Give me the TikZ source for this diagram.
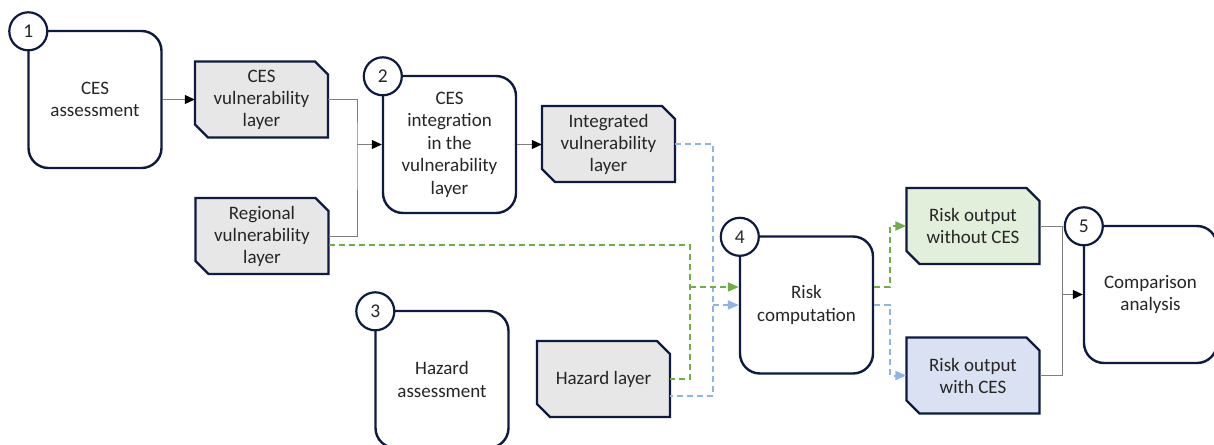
\documentclass[tikz,border=0pt]{standalone}
\usepackage{fontspec}
\setmainfont{Carlito}
\usetikzlibrary{arrows.meta,calc}
\definecolor{navy}{HTML}{0E1A40}
\definecolor{boxgray}{HTML}{E7E7E7}
\definecolor{lgreen}{HTML}{E2EFDA}
\definecolor{lblue}{HTML}{D9E1F2}
\definecolor{dgreen}{HTML}{70AD47}
\definecolor{dblue}{HTML}{8EB4E3}
\definecolor{connc}{HTML}{7F7F7F}
\definecolor{txt}{HTML}{262626}
\newcommand\dbox[5]{%
  \filldraw[dstyle, fill=#4] (#2-66.5,#3-38) -- (#2+53.5,#3-38) -- (#2+66.5,#3-25) -- (#2+66.5,#3+38) -- (#2-53.5,#3+38) -- (#2-66.5,#3+25) -- cycle;
  \node[dlabel] (#1) at (#2,#3) {#5};}
\begin{document}
\begin{tikzpicture}[x=1pt,y=-1pt,
  every node/.style={text=txt},
  proc/.style={draw=navy, line width=2.4pt, rounded corners=20pt, fill=white, minimum width=133pt, minimum height=137pt, align=center, font=\fontsize{19}{22.5}\selectfont, inner sep=0pt},
  num/.style={circle, draw=navy, line width=2.2pt, fill=white, minimum size=38pt, inner sep=0pt, font=\fontsize{19.5}{22}\selectfont},
  dstyle/.style={draw=navy, line width=2.4pt, line join=miter},
  dlabel/.style={rectangle, minimum width=133pt, minimum height=76pt, inner sep=0pt, align=center, font=\fontsize{19}{22}\selectfont},
  cline/.style={draw=connc, line width=1pt},
  conn/.style={cline, -{Triangle[length=10pt,width=9pt,color=black]}},
  gline/.style={draw=dgreen, line width=2pt, dash pattern=on 6pt off 4pt},
  garrow/.style={gline, -{Triangle[length=11pt,width=9pt,color=dgreen]}},
  bline/.style={draw=dblue, line width=2pt, dash pattern=on 6pt off 4pt},
  barrow/.style={bline, -{Triangle[length=11pt,width=9pt,color=dblue]}}
]
\useasboundingbox (0,0) rectangle (1214,444);
\fill[white] (0,0) rectangle (1214,444);

% process boxes
\node[proc] (p1) at (95,99.5) {CES\\assessment};
\node[proc] (p2) at (449.5,144.5) {CES\\integration\\in the\\vulnerability\\layer};
\node[proc] (p3) at (442,379.5) {Hazard\\assessment};
\node[proc] (p4) at (806.5,305) {Risk\\computation};
\node[proc] (p5) at (1150.5,294.5) {Comparison\\analysis};

% numbers
\node[num] (n1) at ($(p1.north west)+(1,1.5)$) {1};
\node[num] (n2) at ($(p2.north west)+(1,1.5)$) {2};
\node[num] (n3) at ($(p3.north west)+(1,1.5)$) {3};
\node[num] (n4) at ($(p4.north west)+(1,1.5)$) {4};
\node[num] (n5) at ($(p5.north west)+(1,1.5)$) {5};

% data boxes
\dbox{cesv}{261.5}{99.5}{boxgray}{CES\\vulnerability\\layer}
\dbox{regv}{262}{236}{boxgray}{Regional\\vulnerability\\layer}
\dbox{intv}{608.5}{144}{boxgray}{Integrated\\vulnerability\\layer}
\dbox{haz}{603.5}{379}{boxgray}{Hazard layer}
\dbox{rwo}{973}{226}{lgreen}{Risk output\\without CES}
\dbox{rw}{973}{375.5}{lblue}{Risk output\\with CES}

% solid connectors
\draw[conn] (p1.east) -- (cesv.west);
\coordinate (j1) at (357,144.5);
\draw[cline] (cesv.east) -| (j1) |- (regv.east);
\draw[conn] (j1) -- (p2.west);
\draw[conn] (p2.east) -- (intv.west |- p2.east);

% blue dashed
\coordinate (bx) at (713,305);
\draw[bline] (intv.east) -| (bx) |- ($(haz.east)+(0,17)$);
\draw[barrow] (bx) -- (p4.west |- bx);

% green dashed
\coordinate (gx) at (690,287);
\draw[gline] ($(regv.east)+(0,9)$) -| (gx) |- (haz.east);
\draw[garrow] (gx) -- (p4.west |- gx);

% outputs
\coordinate (gx2) at (890,287);
\draw[garrow] (p4.east |- gx2) -- (gx2) |- (rwo.west);
\coordinate (bx2) at (890,305);
\draw[barrow] (p4.east |- bx2) -- (bx2) |- (rw.west);

% comparison
\coordinate (j5) at (1062,294.5);
\draw[cline] (rwo.east) -| (j5) |- (rw.east);
\draw[conn] (j5) -- (p5.west);
\end{tikzpicture}
\end{document}
